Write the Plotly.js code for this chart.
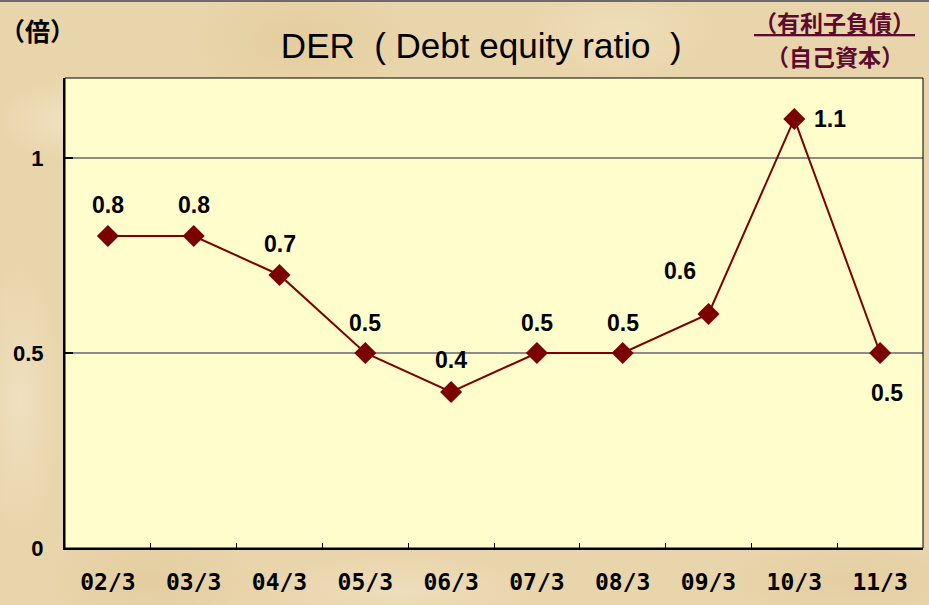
<!DOCTYPE html>
<html>
<head>
<meta charset="utf-8">
<script src="https://cdn.plot.ly/plotly-3.0.1.min.js"></script>
<style>
html,body{margin:0;padding:0;}
body{width:929px;height:605px;overflow:hidden;position:relative;
background-color:#E9D5AB;
background-image:
 radial-gradient(ellipse 120px 60px at 80px 120px, rgba(245,232,205,0.7), rgba(245,232,205,0) 70%),
 radial-gradient(ellipse 160px 90px at 300px 40px, rgba(225,200,150,0.6), rgba(225,200,150,0) 70%),
 radial-gradient(ellipse 140px 70px at 620px 30px, rgba(240,225,190,0.7), rgba(240,225,190,0) 70%),
 radial-gradient(ellipse 180px 60px at 850px 580px, rgba(225,200,155,0.6), rgba(225,200,155,0) 70%),
 radial-gradient(ellipse 200px 50px at 400px 590px, rgba(240,225,195,0.7), rgba(240,225,195,0) 70%),
 radial-gradient(ellipse 60px 200px at 20px 400px, rgba(242,228,200,0.7), rgba(242,228,200,0) 70%),
 radial-gradient(ellipse 150px 80px at 150px 580px, rgba(222,198,150,0.5), rgba(222,198,150,0) 70%);
}
#topline{position:absolute;left:0;top:0;width:929px;height:2px;background:#6b6b6b;z-index:5;}
#chart{width:929px;height:605px;}
</style>
</head>
<body>
<div id="topline"></div>
<div id="chart"></div>
<script>
var categories = ['02/3','03/3','04/3','05/3','06/3','07/3','08/3','09/3','10/3','11/3'];
var derValues = [0.8, 0.8, 0.7, 0.5, 0.4, 0.5, 0.5, 0.6, 1.1, 0.5];
var yTickVals = [0, 0.5, 1];
var yTickText = ['0', '0.5', '1'];
var titleText = 'DER\u00A0\u00A0(\u00A0Debt equity ratio\u00A0\u00A0)';
var unitText = '（倍）';
var formulaTop = '（有利子負債）';
var formulaBottom = '（自己資本）';

var labelShiftX = [0, 0, 0, 0, 0, 0, 0, -29, 36, 7];
var labelShiftY = [31, 31, 31, 30, 32, 30, 30, 43, 0, -40];

var maroon = '#7B0000';
var annotations = derValues.map(function(v, i){
  return {x: categories[i], y: v, xref:'x', yref:'y', text: String(v), showarrow:false,
    xshift: labelShiftX[i], yshift: labelShiftY[i],
    font:{family:'Liberation Sans, Arial, sans-serif', size:23, color:'#000', weight:700}};
});
annotations.push({xref:'paper', yref:'paper', x:-0.032, y:1.102, xanchor:'center', yanchor:'middle',
  text: unitText, showarrow:false,
  font:{family:'Noto Sans CJK JP, sans-serif', size:25, color:'#000', weight:700}});
annotations.push({xref:'paper', yref:'paper', x:0.897, y:1.119, xanchor:'center', yanchor:'middle',
  text: '<u>' + formulaTop + '</u>', showarrow:false,
  font:{family:'Noto Sans CJK JP, sans-serif', size:23, color:'#5C0A2E', weight:700}});
annotations.push({xref:'paper', yref:'paper', x:0.897, y:1.047, xanchor:'center', yanchor:'middle',
  text: formulaBottom, showarrow:false,
  font:{family:'Noto Sans CJK JP, sans-serif', size:23, color:'#5C0A2E', weight:700}});

var trace = {
  x: categories, y: derValues, type:'scatter', mode:'lines+markers',
  line:{color:maroon, width:2},
  marker:{symbol:'diamond', size:17, color:maroon},
  hoverinfo:'skip', cliponaxis:false
};

var layout = {
  width:929, height:605,
  margin:{l:65, r:6, t:78, b:57, pad:0},
  paper_bgcolor:'rgba(0,0,0,0)',
  plot_bgcolor:'#FFFDCB',
  showlegend:false,
  title:{text:titleText, x:0.518, xanchor:'center', y:0.925, yanchor:'middle',
    font:{family:'Liberation Sans, Arial, sans-serif', size:35, color:'#000'}},
  xaxis:{type:'category', range:[-0.5, categories.length - 0.5], tickson:'boundaries', ticks:'inside', ticklen:5, tickwidth:1, tickcolor:'#000',
    showline:true, linecolor:'#000', linewidth:2, showgrid:false, zeroline:false,
    ticklabelstandoff:12,
    tickfont:{family:'DejaVu Sans Mono, monospace', size:23, color:'#000', weight:700},
    fixedrange:true},
  yaxis:{range:[0, 1.205], tickvals:yTickVals, ticktext:yTickText, ticks:'inside', ticklen:8, tickwidth:2,
    tickcolor:'#000', showline:true, linecolor:'#000', linewidth:2,
    showgrid:true, gridcolor:'#8c8c8c', gridwidth:2, zeroline:false,
    ticklabelstandoff:15,
    tickfont:{family:'Liberation Sans, Arial, sans-serif', size:22, color:'#000', weight:700},
    fixedrange:true},
  shapes:[{type:'rect', xref:'paper', yref:'paper', x0:0, x1:1, y0:0, y1:1, line:{color:'#000', width:1}, layer:'above'}],
  annotations: annotations
};

Plotly.newPlot('chart', [trace], layout, {displayModeBar:false, staticPlot:true});
</script>
</body>
</html>
